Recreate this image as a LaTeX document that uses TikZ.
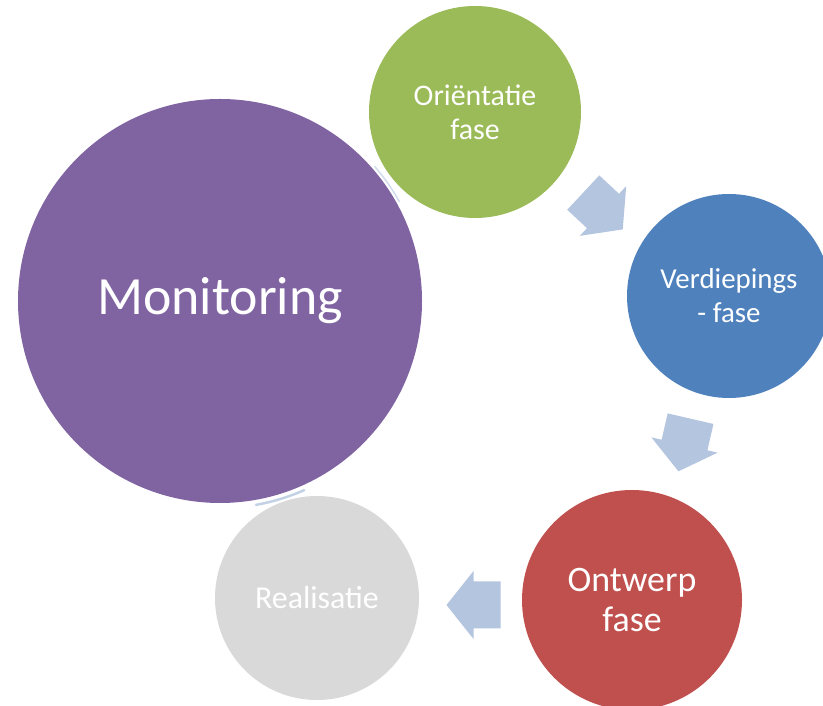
\documentclass[tikz,border=0pt]{standalone}
\usepackage{fontspec}
\setmainfont{Carlito}
\usetikzlibrary{calc}
\definecolor{mpurp}{HTML}{8064A2}
\definecolor{mgreen}{HTML}{9BBB59}
\definecolor{mblue}{HTML}{4F81BD}
\definecolor{mred}{HTML}{C0504D}
\definecolor{mgrey}{HTML}{D9D9D9}
\definecolor{arrl}{HTML}{B4C5DF}
\tikzset{fase/.style={circle, inner sep=0pt, text=white, align=center},
  blk/.style={fill=arrl},
  ghost/.style={arrl, line width=2.5pt, line cap=round, opacity=0.8}}
\begin{document}
\begin{tikzpicture}[x=1bp, y=1bp]
  \useasboundingbox (0,0) rectangle (823,706);
  \node[fase, fill=mpurp, minimum size=404bp, font=\fontsize{54}{64}\selectfont] (mon) at (220,405) {Monitoring};
  \node[fase, fill=mgreen, minimum size=212bp, font=\fontsize{30}{34}\selectfont] (ori) at (475,594) {Oriëntatie\\fase};
  \node[fase, fill=mblue, minimum size=204bp, font=\fontsize{29}{34}\selectfont] (ver) at (729,410) {Verdiepings\\- fase};
  \node[fase, fill=mred, minimum size=220bp, font=\fontsize{36}{41}\selectfont] (ont) at (632,106) {Ontwerp\\fase};
  \node[fase, fill=mgrey, text=white, minimum size=204bp, font=\fontsize{32}{38}\selectfont] (rea) at (317,108) {Realisatie};
  % block arrows between the phases
  \foreach \a/\b/\r/\dx/\dy in {ori/ver/-43/1/-7, ver/ont/-103/4/3, ont/rea/180/-1/-6}{
    \fill[blk, shift={($(\a)!0.5!(\b)+(\dx,\dy)$)}, rotate=\r]
      (-27,-23.5) -- (0,-23.5) -- (0,-34) -- (27,0) -- (0,34) -- (0,23.5) -- (-27,23.5) -- cycle;}
  % faint leftovers round monitoring
  \draw[ghost] ($(mon)+(-80:207)$) arc[start angle=-80, end angle=-66, radius=207];
  \draw[ghost, line width=1.5pt, opacity=0.6] ($(mon)+(29:205)$) arc[start angle=29, end angle=41, radius=205];
\end{tikzpicture}
\end{document}
